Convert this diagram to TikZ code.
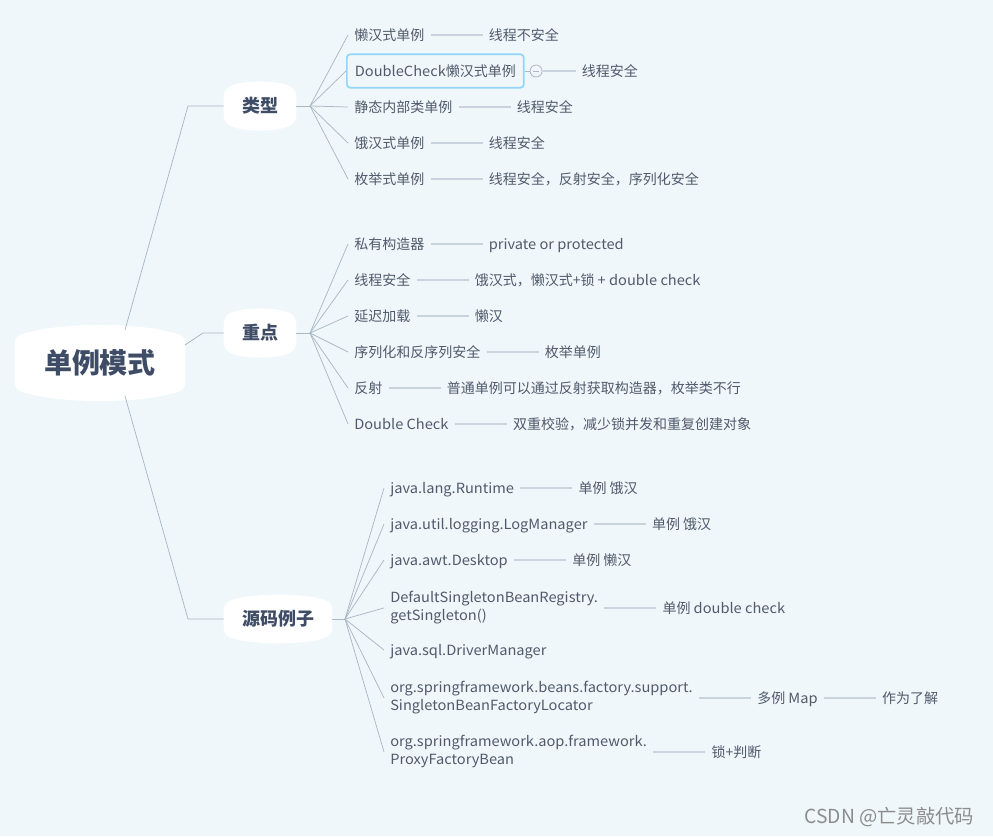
\documentclass[tikz,border=0pt]{standalone}
\usepackage{fontspec}
\setmainfont{Noto Sans CJK SC}
\newfontfamily\latinfont{Noto Sans CJK SC}[FakeStretch=1.045]
\newcommand\lat[1]{{\latinfont #1}}
\usetikzlibrary{positioning,calc,backgrounds}

\definecolor{bgcol}{HTML}{EFF7FA}
\definecolor{txt}{HTML}{505A6B}
\definecolor{head}{HTML}{3E4C65}
\definecolor{fanc}{HTML}{AAB7C4}
\definecolor{linkc}{HTML}{C8D3DD}
\definecolor{selc}{HTML}{93D6F7}
\definecolor{markc}{HTML}{8C8C8C}

\tikzset{
  leaf/.style={anchor=west, inner xsep=4.5pt, inner ysep=1pt, text=txt, align=left,
    text height=9.8pt, text depth=2.2pt, font=\fontsize{10.5}{13.5}\selectfont},
  leaftwo/.style={leaf, text height={}, text depth={}, yshift=-2.2pt},
  topic/.style={inner sep=0pt, minimum width=54pt, minimum height=24pt, text=head,
    font=\fontsize{13.5}{16}\selectfont\bfseries},
  fan/.style={draw=fanc, line width=0.55pt},
  link/.style={draw=linkc, line width=1.1pt},
  picked/.style={leaf, draw=selc, line width=1.3pt, rounded corners=2.5pt,
    inner xsep=6pt, minimum height=25pt},
  fold/.style={circle, draw=fanc, line width=0.6pt, minimum size=9pt, inner sep=0pt,
    path picture={\draw[fanc, line width=0.6pt]
      ([xshift=2pt]path picture bounding box.west) --
      ([xshift=-2pt]path picture bounding box.east);}},
}

% white bubble behind a topic node: #1 node, #2 bulge of top and bottom
\newcommand\bubble[2]{%
  \fill[white, rounded corners=5pt] (#1.north west)
    .. controls ($(#1.north west)!0.25!(#1.north east)+(0,-#2)$)
    and ($(#1.north west)!0.75!(#1.north east)+(0,-#2)$) .. (#1.north east)
    -- (#1.south east)
    .. controls ($(#1.south west)!0.75!(#1.south east)+(0,#2)$)
    and ($(#1.south west)!0.25!(#1.south east)+(0,#2)$) .. (#1.south west)
    -- cycle;}

\begin{document}
\begin{tikzpicture}[x=0.75pt, y=-0.75pt]
  % topics
  \node[topic, minimum width=127.5pt, minimum height=39pt,
    font=\fontsize{21}{24}\selectfont\bfseries] (root) at (100,363) {单例模式};
  \node[topic] (kind) at (260,106) {类型};
  \node[topic] (key) at (260,333) {重点};
  \node[topic, minimum width=81pt] (src) at (278,619) {源码例子};

  \coordinate (rootup) at (125,330);
  \coordinate (rootmid) at (185,345);
  \coordinate (rootdn) at (125,396);
  \coordinate (kindel) at (188,106);
  \coordinate (keyel) at (203,333);
  \coordinate (srcel) at (188,619);
  \coordinate (kindfan) at (310,106);
  \coordinate (keyfan) at (310,333);
  \coordinate (srcfan) at (345,619);

  % 类型
  \node[leaf] (k1) at (348,35) {懒汉式单例};
  \node[picked] (k2) at (346,71) {\lat{DoubleCheck}懒汉式单例};
  \node[leaf] (k3) at (348,107) {静态内部类单例};
  \node[leaf] (k4) at (348,143) {饿汉式单例};
  \node[leaf] (k5) at (348,179) {枚举式单例};
  \node[leaf, right=39pt of k1] (k1a) {线程不安全};
  \node[fold, right=3.75pt of k2] (k2f) {};
  \node[leaf, right=24.75pt of k2f] (k2a) {线程安全};
  \node[leaf, right=39pt of k3] (k3a) {线程安全};
  \node[leaf, right=39pt of k4] (k4a) {线程安全};
  \node[leaf, right=39pt of k5] (k5a) {线程安全，反射安全，序列化安全};

  % 重点
  \node[leaf] (p1) at (348,244) {私有构造器};
  \node[leaf] (p2) at (348,280) {线程安全};
  \node[leaf] (p3) at (348,316) {延迟加载};
  \node[leaf] (p4) at (348,352) {序列化和反序列安全};
  \node[leaf] (p5) at (348,388) {反射};
  \node[leaf] (p6) at (348,424) {\lat{Double Check}};
  \node[leaf, right=39pt of p1] (p1a) {\lat{private or protected}};
  \node[leaf, right=39pt of p2] (p2a) {饿汉式，懒汉式+锁 \lat{+ double check}};
  \node[leaf, right=39pt of p3] (p3a) {懒汉};
  \node[leaf, right=39pt of p4] (p4a) {枚举单例};
  \node[leaf, right=39pt of p5] (p5a) {普通单例可以通过反射获取构造器，枚举类不行};
  \node[leaf, right=39pt of p6] (p6a) {双重校验，减少锁并发和重复创建对象};

  % 源码例子
  \node[leaf] (s1) at (384,488) {\lat{java.lang.Runtime}};
  \node[leaf] (s2) at (384,524) {\lat{java.util.logging.LogManager}};
  \node[leaf] (s3) at (384,560) {\lat{java.awt.Desktop}};
  \node[leaftwo] (s4) at (384,605) {\lat{DefaultSingletonBeanRegistry.}\\\lat{getSingleton()}};
  \node[leaf] (s5) at (384,650) {\lat{java.sql.DriverManager}};
  \node[leaftwo] (s6) at (384,695) {\lat{org.springframework.beans.factory.support.}\\\lat{SingletonBeanFactoryLocator}};
  \node[leaftwo] (s7) at (384,749) {\lat{org.springframework.aop.framework.}\\\lat{ProxyFactoryBean}};
  \node[leaf, right=39pt of s1] (s1a) {单例 饿汉};
  \node[leaf, right=39pt of s2] (s2a) {单例 饿汉};
  \node[leaf, right=39pt of s3] (s3a) {单例 懒汉};
  \node[leaf, right=39pt of s4] (s4a) {单例 \lat{double check}};
  \node[leaf, right=39pt of s6] (s6a) {多例 \lat{Map}};
  \node[leaf, right=39pt of s6a] (s6b) {作为了解};
  \node[leaf, right=39pt of s7] (s7a) {锁+判断};

  \node[anchor=east, text=markc, font=\fontsize{14.5}{16}\selectfont] (mark) at (979,817) {CSDN @亡灵敲代码};

  % connectors
  \draw[fan] (rootup) -- (kindel) -- (kind.west);
  \draw[fan] (rootmid) -- (keyel) -- (key.west);
  \draw[fan] (rootdn) -- (srcel) -- (src.west);
  \draw[fan] (kind.east) -- (kindfan);
  \draw[fan] (key.east) -- (keyfan);
  \draw[fan] (src.east) -- (srcfan);
  \foreach \n in {k1,k2,k3,k4,k5}
    \draw[fan] (kindfan) -- (\n.west);
  \foreach \n in {p1,p2,p3,p4,p5,p6}
    \draw[fan] (keyfan) -- (\n.west);
  \foreach \n in {s1,s2,s3,s4,s5,s6,s7}
    \draw[fan] (srcfan) -- (\n.west);
  \foreach \a/\b in {k1/k1a,k3/k3a,k4/k4a,k5/k5a,p1/p1a,p2/p2a,p3/p3a,p4/p4a,p5/p5a,p6/p6a,
      s1/s1a,s2/s2a,s3/s3a,s4/s4a,s6/s6a,s6a/s6b,s7/s7a,k2f/k2a}
    \draw[link] (\a.east) -- (\b.west);
  \draw[fan] (k2.east) -- (k2f.west);

  \begin{scope}[on background layer]
    \fill[bgcol] (0,0) rectangle (993,836);
    \bubble{root}{15}
    \bubble{kind}{10}
    \bubble{key}{10}
    \bubble{src}{10}
  \end{scope}
\end{tikzpicture}
\end{document}
